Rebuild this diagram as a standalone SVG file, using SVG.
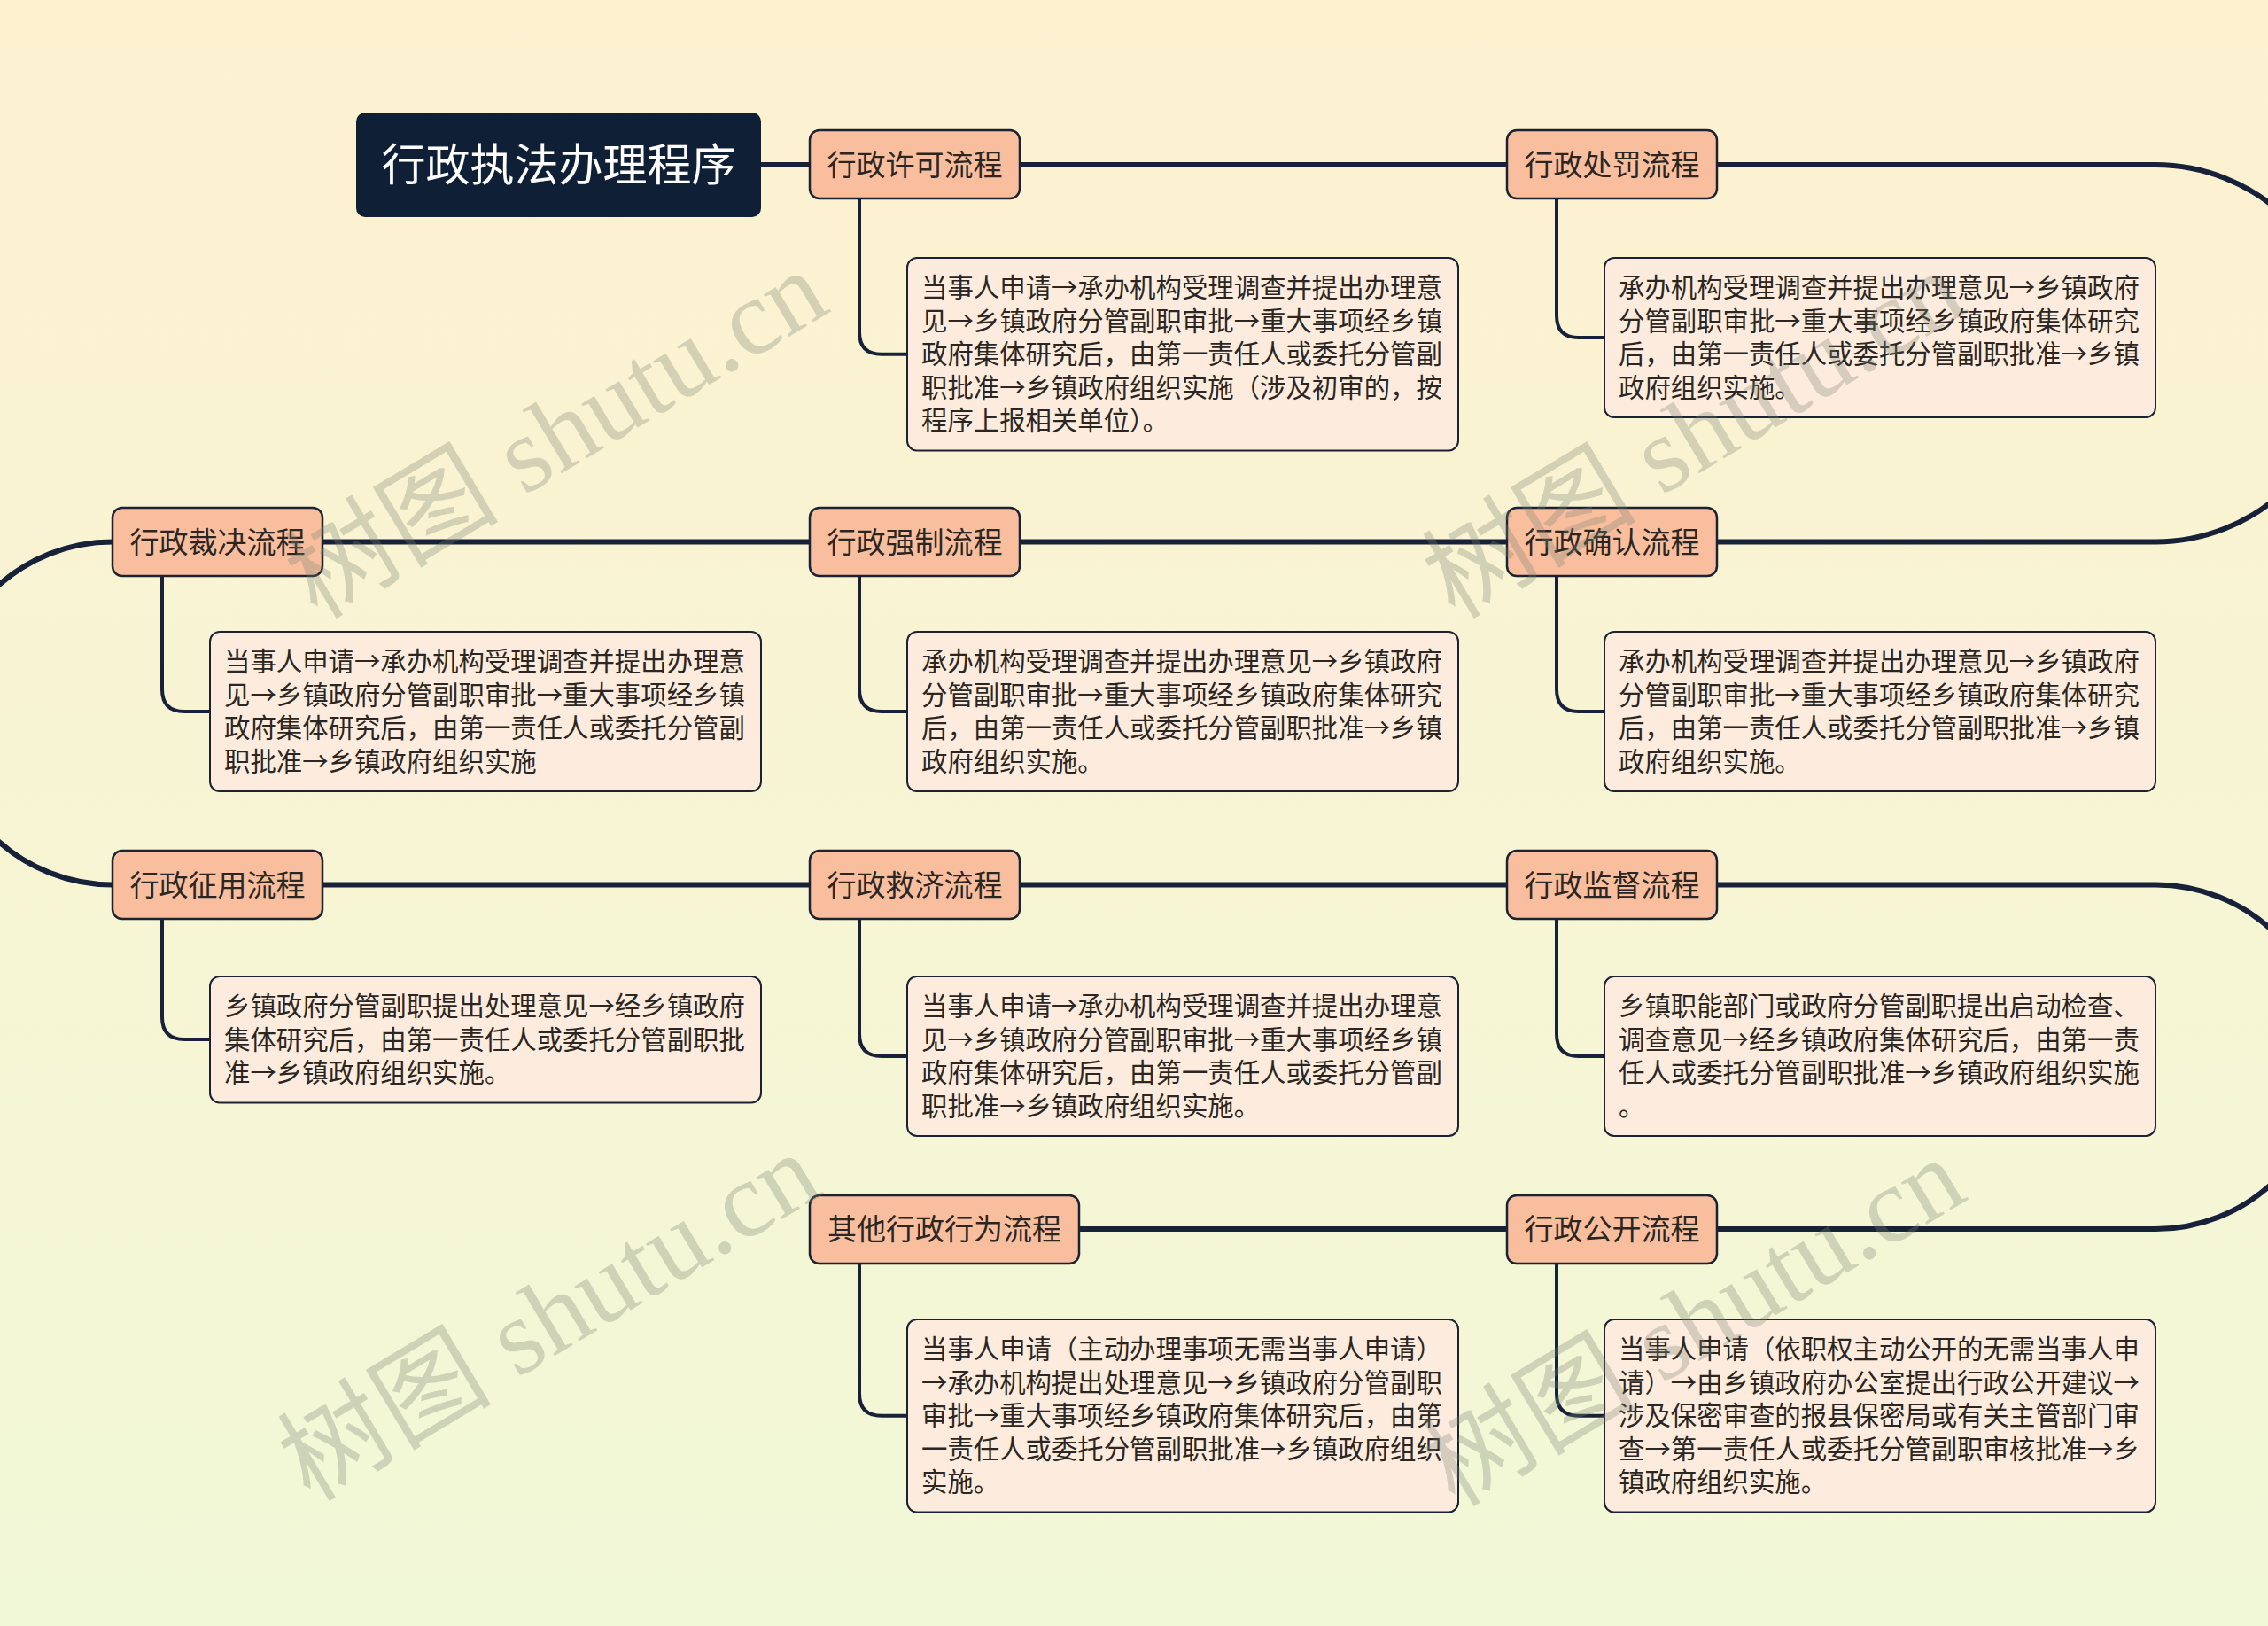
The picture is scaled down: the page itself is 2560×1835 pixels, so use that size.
<svg xmlns="http://www.w3.org/2000/svg" width="2560" height="1835" viewBox="0 0 2560 1835">
<defs>
<linearGradient id="bg" x1="0" y1="0" x2="0" y2="1">
<stop offset="0" stop-color="#fdf1d0"/>
<stop offset="1" stop-color="#f1f8d7"/>
</linearGradient>
<style>
.main{fill:none;stroke:#17223a;stroke-width:6}
.sub{fill:none;stroke:#17223a;stroke-width:4}
.node rect{fill:#f9be9e;stroke:#1a2233;stroke-width:2.5}
.node text{font-family:"Noto Sans CJK SC","Noto Sans",sans-serif;font-size:33px;fill:#2b2622;text-anchor:middle}
.box rect{fill:#fdecdd;stroke:#1a2233;stroke-width:2}
.box text{font-family:"Noto Sans CJK SC","Noto Sans",sans-serif;font-size:29.4px;fill:#2b2622}
.wm{font-family:"Liberation Serif","Noto Sans CJK SC",serif;font-size:121px;fill:#7a8374;opacity:0.3}
</style>
</defs>
<rect x="0" y="0" width="2560" height="1835" fill="url(#bg)"/>

<g id="connectors">
<path class="main" d="M 859 186 H 2433 A 212.75 212.75 0 0 1 2433 611.5 H 127 A 193.5 193.5 0 0 0 127 998.5 H 2433 A 194.25 194.25 0 0 1 2433 1387 H 1218"/>
<path class="sub" d="M 970 224 V 374.75 Q 970 399.75 995 399.75 H 1024"/>
<path class="sub" d="M 1757 224 V 356 Q 1757 381 1782 381 H 1811"/>
<path class="sub" d="M 183 650 V 778 Q 183 803 208 803 H 237"/>
<path class="sub" d="M 970 650 V 778 Q 970 803 995 803 H 1024"/>
<path class="sub" d="M 1757 650 V 778 Q 1757 803 1782 803 H 1811"/>
<path class="sub" d="M 183 1037 V 1148 Q 183 1173 208 1173 H 237"/>
<path class="sub" d="M 970 1037 V 1167 Q 970 1192 995 1192 H 1024"/>
<path class="sub" d="M 1757 1037 V 1167 Q 1757 1192 1782 1192 H 1811"/>
<path class="sub" d="M 970 1425 V 1572.75 Q 970 1597.75 995 1597.75 H 1024"/>
<path class="sub" d="M 1757 1425 V 1572.75 Q 1757 1597.75 1782 1597.75 H 1811"/>
</g>

<g id="root">
<rect x="402" y="127" width="457" height="118" rx="10" fill="#0f1f35"/>
<text x="630.5" y="204" font-family="'Noto Sans CJK SC','Noto Sans',sans-serif" font-size="50" fill="#ffffff" text-anchor="middle">行政执法办理程序</text>
</g>

<g id="n-xuke" class="node"><rect x="914" y="147" width="237" height="77" rx="11"/><text x="1032.5" y="197.5">行政许可流程</text></g>
<g id="n-chufa" class="node"><rect x="1701" y="147" width="237" height="77" rx="11"/><text x="1819.5" y="197.5">行政处罚流程</text></g>
<g id="n-caijue" class="node"><rect x="127" y="573" width="237" height="77" rx="11"/><text x="245.5" y="623.5">行政裁决流程</text></g>
<g id="n-qiangzhi" class="node"><rect x="914" y="573" width="237" height="77" rx="11"/><text x="1032.5" y="623.5">行政强制流程</text></g>
<g id="n-queren" class="node"><rect x="1701" y="573" width="237" height="77" rx="11"/><text x="1819.5" y="623.5">行政确认流程</text></g>
<g id="n-zhengyong" class="node"><rect x="127" y="960" width="237" height="77" rx="11"/><text x="245.5" y="1010.5">行政征用流程</text></g>
<g id="n-jiuji" class="node"><rect x="914" y="960" width="237" height="77" rx="11"/><text x="1032.5" y="1010.5">行政救济流程</text></g>
<g id="n-jiandu" class="node"><rect x="1701" y="960" width="237" height="77" rx="11"/><text x="1819.5" y="1010.5">行政监督流程</text></g>
<g id="n-qita" class="node"><rect x="914" y="1349" width="304" height="77" rx="11"/><text x="1066" y="1399">其他行政行为流程</text></g>
<g id="n-gongkai" class="node"><rect x="1701" y="1349" width="237" height="77" rx="11"/><text x="1819.5" y="1399">行政公开流程</text></g>

<g id="b-xuke" class="box"><rect x="1024" y="291" width="622" height="217.5" rx="11"/>
<text x="1040" y="335"><tspan x="1040" y="335">当事人申请→承办机构受理调查并提出办理意</tspan><tspan x="1040" y="372.5">见→乡镇政府分管副职审批→重大事项经乡镇</tspan><tspan x="1040" y="410">政府集体研究后，由第一责任人或委托分管副</tspan><tspan x="1040" y="447.5">职批准→乡镇政府组织实施（涉及初审的，按</tspan><tspan x="1040" y="485">程序上报相关单位）。</tspan></text></g>

<g id="b-chufa" class="box"><rect x="1811" y="291" width="622" height="180" rx="11"/>
<text x="1827" y="335"><tspan x="1827" y="335">承办机构受理调查并提出办理意见→乡镇政府</tspan><tspan x="1827" y="372.5">分管副职审批→重大事项经乡镇政府集体研究</tspan><tspan x="1827" y="410">后，由第一责任人或委托分管副职批准→乡镇</tspan><tspan x="1827" y="447.5">政府组织实施。</tspan></text></g>

<g id="b-caijue" class="box"><rect x="237" y="713" width="622" height="180" rx="11"/>
<text x="253" y="757"><tspan x="253" y="757">当事人申请→承办机构受理调查并提出办理意</tspan><tspan x="253" y="794.5">见→乡镇政府分管副职审批→重大事项经乡镇</tspan><tspan x="253" y="832">政府集体研究后，由第一责任人或委托分管副</tspan><tspan x="253" y="869.5">职批准→乡镇政府组织实施</tspan></text></g>

<g id="b-qiangzhi" class="box"><rect x="1024" y="713" width="622" height="180" rx="11"/>
<text x="1040" y="757"><tspan x="1040" y="757">承办机构受理调查并提出办理意见→乡镇政府</tspan><tspan x="1040" y="794.5">分管副职审批→重大事项经乡镇政府集体研究</tspan><tspan x="1040" y="832">后，由第一责任人或委托分管副职批准→乡镇</tspan><tspan x="1040" y="869.5">政府组织实施。</tspan></text></g>

<g id="b-queren" class="box"><rect x="1811" y="713" width="622" height="180" rx="11"/>
<text x="1827" y="757"><tspan x="1827" y="757">承办机构受理调查并提出办理意见→乡镇政府</tspan><tspan x="1827" y="794.5">分管副职审批→重大事项经乡镇政府集体研究</tspan><tspan x="1827" y="832">后，由第一责任人或委托分管副职批准→乡镇</tspan><tspan x="1827" y="869.5">政府组织实施。</tspan></text></g>

<g id="b-zhengyong" class="box"><rect x="237" y="1102" width="622" height="142.5" rx="11"/>
<text x="253" y="1146"><tspan x="253" y="1146">乡镇政府分管副职提出处理意见→经乡镇政府</tspan><tspan x="253" y="1183.5">集体研究后，由第一责任人或委托分管副职批</tspan><tspan x="253" y="1221">准→乡镇政府组织实施。</tspan></text></g>

<g id="b-jiuji" class="box"><rect x="1024" y="1102" width="622" height="180" rx="11"/>
<text x="1040" y="1146"><tspan x="1040" y="1146">当事人申请→承办机构受理调查并提出办理意</tspan><tspan x="1040" y="1183.5">见→乡镇政府分管副职审批→重大事项经乡镇</tspan><tspan x="1040" y="1221">政府集体研究后，由第一责任人或委托分管副</tspan><tspan x="1040" y="1258.5">职批准→乡镇政府组织实施。</tspan></text></g>

<g id="b-jiandu" class="box"><rect x="1811" y="1102" width="622" height="180" rx="11"/>
<text x="1827" y="1146"><tspan x="1827" y="1146">乡镇职能部门或政府分管副职提出启动检查、</tspan><tspan x="1827" y="1183.5">调查意见→经乡镇政府集体研究后，由第一责</tspan><tspan x="1827" y="1221">任人或委托分管副职批准→乡镇政府组织实施</tspan><tspan x="1827" y="1258.5">。</tspan></text></g>

<g id="b-qita" class="box"><rect x="1024" y="1489" width="622" height="217.5" rx="11"/>
<text x="1040" y="1533"><tspan x="1040" y="1533">当事人申请（主动办理事项无需当事人申请）</tspan><tspan x="1040" y="1570.5">→承办机构提出处理意见→乡镇政府分管副职</tspan><tspan x="1040" y="1608">审批→重大事项经乡镇政府集体研究后，由第</tspan><tspan x="1040" y="1645.5">一责任人或委托分管副职批准→乡镇政府组织</tspan><tspan x="1040" y="1683">实施。</tspan></text></g>

<g id="b-gongkai" class="box"><rect x="1811" y="1489" width="622" height="217.5" rx="11"/>
<text x="1827" y="1533"><tspan x="1827" y="1533">当事人申请（依职权主动公开的无需当事人申</tspan><tspan x="1827" y="1570.5">请）→由乡镇政府办公室提出行政公开建议→</tspan><tspan x="1827" y="1608">涉及保密审查的报县保密局或有关主管部门审</tspan><tspan x="1827" y="1645.5">查→第一责任人或委托分管副职审核批准→乡</tspan><tspan x="1827" y="1683">镇政府组织实施。</tspan></text></g>

<g id="watermarks">
<text class="wm" transform="translate(358 700) rotate(-31)">树图 shutu.cn</text>
<text class="wm" transform="translate(1642 700) rotate(-31)">树图 shutu.cn</text>
<text class="wm" transform="translate(350 1696) rotate(-31)">树图 shutu.cn</text>
<text class="wm" transform="translate(1642 1702) rotate(-31)">树图 shutu.cn</text>
</g>
</svg>
